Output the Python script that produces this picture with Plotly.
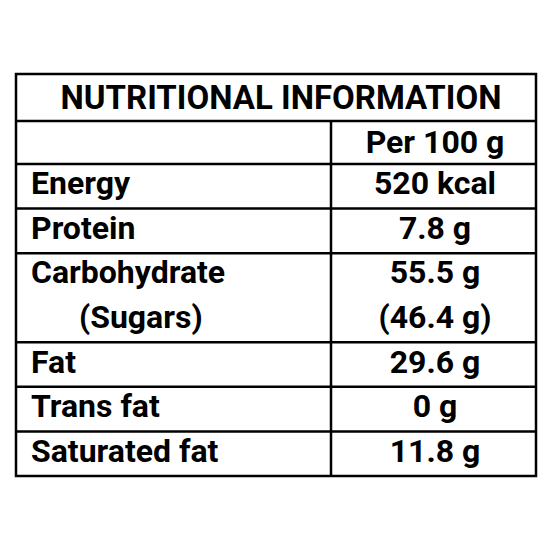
import plotly.graph_objects as go

title = "NUTRITIONAL INFORMATION"
header = "Per 100 g"
nutrients = ["Energy", "Protein", "Carbohydrate", "(Sugars)", "Fat", "Trans fat", "Saturated fat"]
amounts = ["520 kcal", "7.8 g", "55.5 g", "(46.4 g)", "29.6 g", "0 g", "11.8 g"]
indent = [False, False, False, True, False, False, False]
no_line_above = ["(Sugars)"]

left, right, divider = 15, 535, 330
top, title_bottom, header_bottom, bottom = 73, 120, 163, 475
row_h = (bottom - header_bottom) / len(nutrients)

fig = go.Figure()
font = dict(family="Roboto, Liberation Sans Narrow, Arial", size=32, color="black")


def b(s):
    return "<b>" + s + "</b>"


ys = [header_bottom + row_h * (i + 0.5) for i in range(len(nutrients))]
fig.add_trace(go.Scatter(
    x=[78 if ind else 30 for ind in indent], y=ys, mode="text", text=[b(n) for n in nutrients],
    textposition="middle right", textfont=font, hoverinfo="skip"))
fig.add_trace(go.Scatter(
    x=[434] * len(amounts), y=ys, mode="text", text=[b(a) for a in amounts],
    textposition="middle center", textfont=font, hoverinfo="skip"))
fig.add_trace(go.Scatter(
    x=[434], y=[(title_bottom + header_bottom) / 2 + 2], mode="text", text=[b(header)],
    textposition="middle center", textfont=font, hoverinfo="skip"))
fig.add_trace(go.Scatter(
    x=[(left + right) / 2 + 5], y=[(top + title_bottom) / 2 + 3], mode="text", text=[b(title)],
    textposition="middle center", textfont=dict(font, size=33), hoverinfo="skip"))

line = dict(color="black", width=2.5)
fig.add_shape(type="rect", x0=left, x1=right, y0=top, y1=bottom, line=line)
fig.add_shape(type="line", x0=left, x1=right, y0=title_bottom, y1=title_bottom, line=line)
fig.add_shape(type="line", x0=left, x1=right, y0=header_bottom, y1=header_bottom, line=line)
fig.add_shape(type="line", x0=divider, x1=divider, y0=title_bottom, y1=bottom, line=line)
for i, name in enumerate(nutrients[1:], start=1):
    if name in no_line_above:
        continue
    y = header_bottom + row_h * i
    fig.add_shape(type="line", x0=left, x1=right, y0=y, y1=y, line=line)

# page body margin offsets the plot by ~8px, shift the ranges to compensate
fig.update_layout(
    width=550, height=550, margin=dict(l=0, r=0, t=0, b=0),
    plot_bgcolor="white", paper_bgcolor="white", showlegend=False,
    xaxis=dict(range=[7, 557], visible=False, fixedrange=True),
    yaxis=dict(range=[557, 7], visible=False, fixedrange=True))

fig.write_html("out.html")
